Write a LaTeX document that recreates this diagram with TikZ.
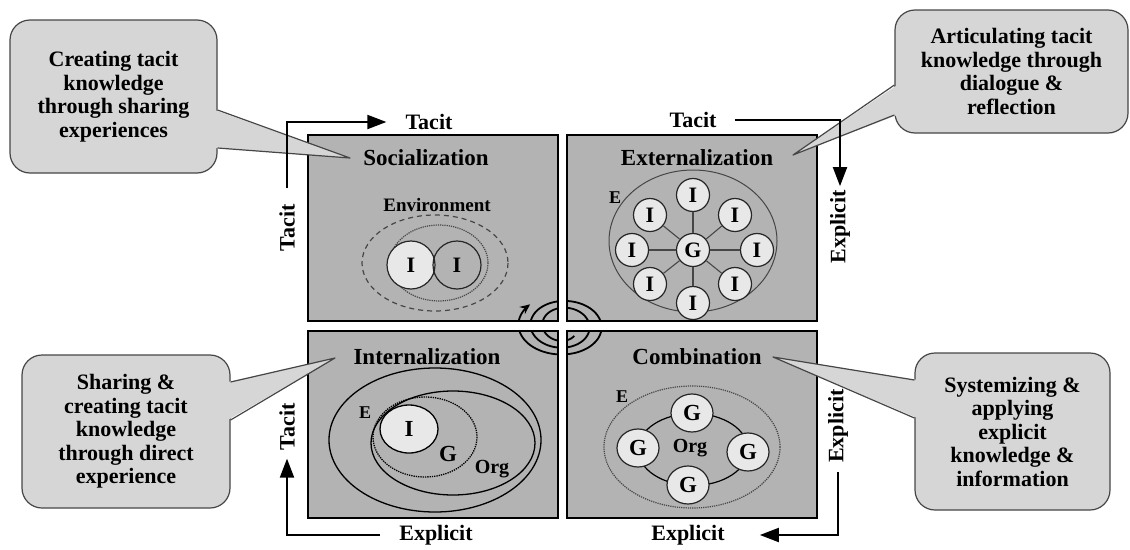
\documentclass[tikz,border=0pt]{standalone}
\usepackage{fontspec}
\setmainfont{Liberation Serif}
\usetikzlibrary{arrows.meta,shapes.geometric,calc}
\definecolor{quadgray}{RGB}{179,179,179}
\definecolor{notegray}{RGB}{214,214,214}
\definecolor{circgray}{RGB}{232,232,232}
\definecolor{edgegray}{RGB}{70,70,70}
\begin{document}
\begin{tikzpicture}[x=1pt,y=-1pt,
  quad/.style={rectangle,fill=quadgray,minimum width=249pt,minimum height=186pt,inner sep=0pt},
  frame/.style={draw=black,line width=1.8pt},
  title/.style={font=\bfseries\fontsize{23}{26}\selectfont,inner sep=1pt},
  axis/.style={font=\bfseries\fontsize{22}{25}\selectfont,inner sep=2pt},
  flow/.style={line width=2pt,-{Triangle[length=19pt,width=14pt]}},
  note/.style={draw=edgegray,line width=1.2pt,fill=notegray,rounded corners=20pt,align=center,inner sep=0pt,font=\bfseries\fontsize{22}{23.5}\selectfont},
  pointer/.style={draw=edgegray,line width=1.2pt,line join=round},
  ball/.style={circle,draw=black!85,line width=1.2pt,fill=circgray,minimum size=33pt,inner sep=0pt,font=\bfseries\fontsize{22}{24}\selectfont},
  gball/.style={ellipse,draw=black!85,line width=1.2pt,fill=circgray,minimum width=42pt,minimum height=38pt,inner sep=0pt,font=\bfseries\fontsize{23}{25}\selectfont},
  tag/.style={font=\bfseries\fontsize{18}{20}\selectfont,inner sep=1pt},
  spoke/.style={line width=1.1pt,draw=edgegray}]
\useasboundingbox (0,0) rectangle (1130,549);

\node[quad] (soc) at (433,228) {};
\node[quad] (ext) at (692,228) {};
\node[quad] (int) at (433,424.5) {};
\node[quad] (com) at (692,424.5) {};

\node[title] (soctitle) at (426,158) {Socialization};
\node[title] (exttitle) at (697,158) {Externalization};
\node[title] (inttitle) at (427,357) {Internalization};
\node[title] (comtitle) at (697,357) {Combination};

\node[tag,font=\bfseries\fontsize{19}{21}\selectfont] (socenv) at (437,205) {Environment};
\draw[edgegray,line width=1.2pt,dash pattern=on 5pt off 4pt] (435,263) ellipse (73 and 48);
\draw[edgegray,line width=1.2pt,densely dotted] (439,263) ellipse (49 and 38);
\node[ball,minimum size=48pt] (soci1) at (411,265) {I};
\node[ball,minimum size=48pt,fill=none] (soci2) at (457,265) {I};

\draw[edgegray,line width=1pt] (693,241) ellipse (84 and 71);
\node[tag] (exte) at (615,198) {E};
\node[ball] (extg) at (693,250) {G};
\node[ball] (exti1) at (693,195) {I};
\node[ball] (exti2) at (650,215) {I};
\node[ball] (exti3) at (735,215) {I};
\node[ball] (exti4) at (632,250) {I};
\node[ball] (exti5) at (757,250) {I};
\node[ball] (exti6) at (650,284) {I};
\node[ball] (exti7) at (735,284) {I};
\node[ball] (exti8) at (693,303) {I};
\draw[spoke] (extg) -- (exti1);
\draw[spoke] (extg) -- (exti2);
\draw[spoke] (extg) -- (exti3);
\draw[spoke] (extg) -- (exti4);
\draw[spoke] (extg) -- (exti5);
\draw[spoke] (extg) -- (exti6);
\draw[spoke] (extg) -- (exti7);
\draw[spoke] (extg) -- (exti8);

\draw[line width=1.3pt] (435,440) ellipse (106 and 72);
\draw[line width=1.3pt] (453,443) ellipse (82 and 52);
\draw[line width=1.3pt,densely dotted] (425,437) ellipse (52 and 40);
\node[ellipse,draw,line width=1.3pt,fill=circgray,minimum width=58pt,minimum height=48pt,inner sep=0pt,font=\bfseries\fontsize{23}{25}\selectfont] (inti) at (409,429) {I};
\node[tag] (inte) at (365,413) {E};
\node[tag,font=\bfseries\fontsize{23}{25}\selectfont] (intg) at (448,454) {G};
\node[tag,font=\bfseries\fontsize{20}{22}\selectfont] (intorg) at (492,469) {Org};

\draw[edgegray,line width=1.2pt,densely dotted] (692,447) ellipse (88 and 61);
\node[tag] (come) at (622,397) {E};
\draw[line width=1.2pt] (693,449.5) ellipse (55 and 36);
\node[gball] (comg1) at (692,413) {G};
\node[gball] (comg2) at (638,448) {G};
\node[gball] (comg3) at (748,452) {G};
\node[gball] (comg4) at (688,485) {G};
\node[tag,font=\bfseries\fontsize{20}{22}\selectfont] (comorg) at (690,448) {Org};

\draw[line width=1.8pt,-{Stealth[length=10pt,width=9pt]}] plot[domain=0:1,samples=300,smooth] ({563+(16+30*\x)*cos(1035-900*\x)},{326-(14+17*\x)*sin(1035-900*\x)});
\fill[white] (soc.north east) rectangle (com.south west);
\fill[white] (soc.south west) rectangle (com.north east);
\draw[frame] (soc.south west) rectangle (soc.north east);
\draw[frame] (ext.south west) rectangle (ext.north east);
\draw[frame] (int.south west) rectangle (int.north east);
\draw[frame] (com.south west) rectangle (com.north east);

\node[axis,rotate=90] (explR2) at (838,426) {Explicit};

\node[note,minimum width=207pt,minimum height=153pt] (socnote) at (113.5,96.5) {Creating tacit\\knowledge\\through sharing\\experiences};
\node[note,minimum width=233pt,minimum height=123pt] (extnote) at (1011.5,71.5) {Articulating tacit\\knowledge through\\dialogue \&\\reflection};
\node[note,minimum width=208pt,minimum height=153pt] (intnote) at (126,431.5) {Sharing \&\\creating tacit\\knowledge\\through direct\\experience};
\node[note,minimum width=195pt,minimum height=157pt] (comnote) at (1012.5,431.5) {Systemizing \&\\applying\\explicit\\knowledge \&\\information};

\coordinate (socTip) at (350,158);
\coordinate (extTip) at (793,155);
\coordinate (intTip) at (335,358);
\coordinate (comTip) at (773,357);
\fill[notegray] ($(socnote.east)+(-3,13.5)$) -- (socTip) -- ($(socnote.east)+(-3,51.5)$) -- cycle;
\draw[pointer] ($(socnote.east)+(0,13.5)$) -- (socTip) -- ($(socnote.east)+(0,51.5)$);
\fill[notegray] ($(extnote.west)+(3,13.5)$) -- (extTip) -- ($(extnote.west)+(3,43.5)$) -- cycle;
\draw[pointer] ($(extnote.west)+(0,13.5)$) -- (extTip) -- ($(extnote.west)+(0,43.5)$);
\fill[notegray] ($(intnote.east)+(-3,-49.5)$) -- (intTip) -- ($(intnote.east)+(-3,-11.5)$) -- cycle;
\draw[pointer] ($(intnote.east)+(0,-49.5)$) -- (intTip) -- ($(intnote.east)+(0,-11.5)$);
\fill[notegray] ($(comnote.west)+(3,-51.5)$) -- (comTip) -- ($(comnote.west)+(3,-13.5)$) -- cycle;
\draw[pointer] ($(comnote.west)+(0,-51.5)$) -- (comTip) -- ($(comnote.west)+(0,-13.5)$);

\node[axis,rotate=90] (tacitL1) at (287,228) {Tacit};
\node[axis] (tacitT1) at (429,122) {Tacit};
\node[axis] (tacitT2) at (693,120) {Tacit};
\node[axis,rotate=90] (explR1) at (840,227) {Explicit};
\node[axis] (explB2) at (688,535) {Explicit};
\node[axis] (explB1) at (436,535) {Explicit};
\node[axis,rotate=90] (tacitL2) at (287,427) {Tacit};
\draw[flow,shorten <=14pt,shorten >=17pt] (tacitL1) |- (tacitT1);
\draw[flow,shorten <=16pt,shorten >=2pt] (tacitT2) -| (explR1);
\draw[flow,shorten <=7pt,shorten >=33pt] (explR2) |- (explB2);
\draw[flow,shorten <=17pt,shorten >=6pt] (explB1) -| (tacitL2);
\end{tikzpicture}
\end{document}
